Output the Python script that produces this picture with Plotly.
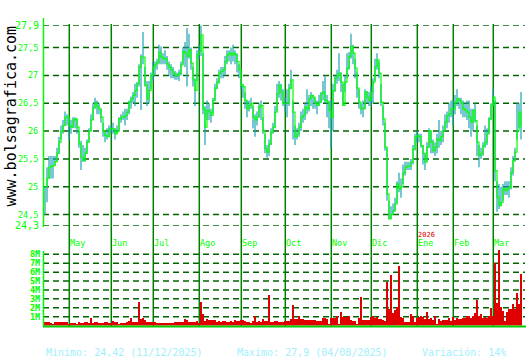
import plotly.graph_objects as go

# ---------------- data ----------------
close = [25.00,25.15,25.35,25.37,25.38,25.45,25.60,25.80,26.00,26.10,26.25,26.25,26.10,26.07,26.20,26.22,26.07,25.77,25.53,25.47,
         25.60,25.80,26.00,26.20,26.42,26.50,26.44,26.40,26.25,26.00,25.92,25.90,26.04,26.04,26.04,25.95,26.00,26.22,26.25,26.25,
         26.28,26.34,26.52,26.58,26.64,26.73,26.85,27.15,27.33,27.33,26.82,26.58,26.73,27.00,27.15,27.20,27.24,27.42,27.33,27.30,
         27.30,27.20,27.15,27.10,27.04,27.00,27.00,27.04,27.19,27.43,27.40,27.34,27.46,27.22,26.92,26.73,27.37,27.43,27.73,26.40,
         26.07,26.37,26.34,26.28,26.55,26.77,26.88,27.04,27.07,27.10,27.25,27.37,27.40,27.37,27.40,27.37,27.25,27.10,26.82,26.80,
         26.55,26.40,26.46,26.50,26.25,26.20,26.25,26.44,26.46,26.00,25.68,25.62,25.77,25.98,26.07,26.34,26.67,26.82,26.70,26.50,
         26.50,26.50,26.77,26.92,26.34,25.90,25.95,26.07,26.25,26.28,26.43,26.40,26.58,26.64,26.61,26.50,26.46,26.52,26.67,26.70,
         26.55,26.52,26.37,26.25,26.73,26.95,27.00,27.04,26.88,26.46,26.88,27.13,27.34,27.52,27.40,27.13,26.77,26.52,26.40,26.40,
         26.70,26.61,26.55,26.70,26.88,27.16,27.28,27.04,26.52,26.22,25.71,24.87,24.42,24.50,24.57,24.69,25.05,24.96,25.00,25.25,
         25.35,25.37,25.37,25.44,25.68,25.90,25.92,25.90,25.74,25.60,25.44,25.71,26.01,25.80,25.65,25.71,25.86,25.83,25.90,26.01,
         26.16,26.28,26.31,26.40,26.40,26.52,26.58,26.55,26.50,26.40,26.37,26.34,26.25,26.16,26.37,26.19,25.80,25.56,25.60,25.74,
         25.80,25.95,26.22,26.46,26.61,25.29,24.81,24.66,24.72,24.96,24.93,24.96,24.99,25.26,25.47,25.62,26.01,26.34,26.07]

high = [25.00,25.35,25.55,25.55,25.55,25.55,25.70,25.90,26.10,26.20,26.35,26.30,26.25,26.20,26.25,26.25,26.22,26.00,25.82,25.75,
        25.70,25.85,26.05,26.30,26.50,26.60,26.55,26.50,26.40,26.15,26.00,26.05,26.10,26.10,26.15,26.05,26.10,26.25,26.30,26.35,
        26.40,26.40,26.55,26.62,26.70,26.85,26.88,27.20,27.38,27.78,27.15,26.90,26.90,27.05,27.25,27.25,27.30,27.55,27.52,27.40,
        27.45,27.35,27.25,27.20,27.15,27.08,27.05,27.10,27.25,27.50,27.60,27.85,27.75,27.50,27.15,26.95,27.45,27.55,27.90,27.40,
        26.45,26.55,26.50,26.40,26.60,26.85,26.95,27.10,27.15,27.15,27.35,27.45,27.45,27.50,27.55,27.45,27.40,27.20,26.95,26.85,
        26.70,26.55,26.55,26.60,26.45,26.30,26.35,26.50,26.55,26.25,25.95,25.75,25.85,26.05,26.15,26.45,26.85,26.90,26.85,26.75,
        26.60,26.75,26.85,27.10,26.55,26.10,26.05,26.15,26.35,26.40,26.50,26.75,26.65,26.70,26.65,26.60,26.55,26.65,26.70,26.90,
        27.00,26.65,26.55,26.55,26.85,27.00,27.10,27.40,27.05,26.85,27.00,27.40,27.42,27.75,27.55,27.30,27.05,26.75,26.50,26.55,
        26.75,26.72,26.70,26.80,26.95,27.30,27.40,27.25,26.85,26.45,26.15,25.70,24.75,24.65,24.70,24.80,25.10,25.25,25.15,25.40,
        25.45,25.45,25.45,25.50,25.75,25.95,26.00,25.95,25.95,25.75,25.60,25.80,26.05,26.00,25.85,25.80,25.95,26.20,26.00,26.10,
        26.30,26.35,26.50,26.55,26.55,26.65,26.75,26.60,26.60,26.55,26.50,26.55,26.55,26.40,26.40,26.50,26.10,25.75,25.70,25.80,
        26.10,26.05,26.25,26.50,26.75,26.55,25.10,25.05,25.00,25.05,25.10,25.10,25.10,25.35,25.55,25.70,26.50,26.50,26.70]

low = [24.50,24.72,25.15,25.15,25.15,25.38,25.45,25.60,25.85,25.95,26.10,26.10,25.85,25.95,26.05,26.05,25.95,25.70,25.30,25.45,
       25.45,25.60,25.80,26.00,26.20,26.40,26.30,26.30,26.15,25.90,25.80,25.85,25.90,25.95,25.95,25.85,25.95,26.00,26.15,26.20,
       26.10,26.20,26.30,26.40,26.50,26.45,26.60,26.80,26.38,27.20,26.80,26.45,26.50,26.75,26.90,27.00,27.10,27.20,27.20,27.20,
       27.20,27.10,27.00,26.95,26.95,26.92,26.92,26.90,27.00,27.20,27.15,26.80,27.30,27.10,26.80,26.45,26.90,27.30,27.35,26.30,
       25.75,26.20,26.20,26.15,26.30,26.55,26.75,26.85,26.95,26.95,27.00,27.20,27.25,27.20,27.25,27.20,27.05,26.95,26.75,26.60,
       26.40,26.25,26.35,26.40,26.05,25.90,26.10,26.25,26.20,25.95,25.60,25.52,25.55,25.75,25.95,26.05,26.35,26.60,26.55,26.45,
       26.35,26.25,26.45,26.75,25.85,25.75,25.85,25.90,26.00,26.15,26.20,26.30,26.35,26.45,26.40,26.40,26.30,26.45,26.50,26.55,
       26.50,26.25,26.05,25.70,26.00,26.70,26.85,26.90,26.70,26.45,26.70,26.95,27.10,27.30,27.20,26.95,26.60,26.40,26.30,26.25,
       26.40,26.50,26.45,26.45,26.50,26.90,27.10,26.95,26.45,26.10,25.65,24.75,24.42,24.42,24.50,24.55,24.70,24.90,24.80,25.05,
       25.20,25.30,25.30,25.30,25.40,25.65,25.80,25.80,25.70,25.40,25.30,25.45,25.70,25.60,25.60,25.55,25.60,25.70,25.75,25.80,
       26.00,26.05,26.15,26.25,26.10,26.30,26.45,26.40,26.30,26.25,26.25,26.20,26.05,25.90,26.00,26.15,25.55,25.35,25.50,25.55,
       25.70,25.75,25.95,26.20,26.45,25.10,24.55,24.60,24.65,24.75,24.85,24.85,24.80,24.95,25.20,25.45,25.85,26.05,25.85]

volume_m = [0.37,0.44,0.37,0.33,0.20,0.37,0.44,0.40,0.37,0.44,0.44,0.44,0.22,0.30,0.30,0.30,0.22,0.37,0.30,0.30,
            0.37,0.40,0.33,0.90,0.26,0.40,0.40,0.33,0.33,0.33,0.37,0.40,0.33,0.33,0.52,0.37,0.44,0.22,0.26,0.26,
            0.33,0.40,0.55,0.90,0.40,0.40,0.44,2.67,0.78,0.90,0.63,0.44,0.44,0.44,0.44,0.44,0.33,0.33,0.33,0.33,
            0.33,0.33,0.33,0.33,0.33,0.37,0.37,0.44,0.37,0.44,0.78,0.60,0.44,0.44,0.44,0.44,0.55,0.33,2.67,1.33,
            0.55,0.78,0.60,0.60,0.60,0.60,0.37,0.48,0.44,0.52,0.52,0.40,0.40,0.52,0.44,0.63,0.48,0.55,0.60,0.67,
            0.55,0.44,0.40,0.33,0.55,1.07,0.44,0.55,0.44,0.78,0.55,0.55,3.44,0.44,0.37,0.55,0.55,0.37,0.44,0.44,
            0.52,0.55,0.55,0.78,2.33,0.78,0.78,1.11,0.78,0.78,0.67,0.67,0.67,0.67,0.67,0.67,0.48,0.55,0.55,0.81,
            0.90,0.78,0.10,0.90,0.90,0.90,1.10,0.10,1.55,1.00,1.00,1.00,1.10,0.67,0.55,0.55,0.10,0.90,3.22,0.67,
            0.67,0.60,0.67,1.00,1.10,0.90,1.00,0.78,0.78,0.67,0.55,4.89,1.89,5.67,1.44,1.78,2.11,6.67,1.00,0.90,
            0.44,0.44,0.44,1.33,1.10,0.44,0.90,1.00,1.10,1.00,0.78,1.55,0.78,0.90,0.67,1.10,0.10,0.78,0.55,0.67,
            0.60,0.60,0.90,0.55,1.00,0.67,0.90,0.78,0.78,0.90,0.90,1.10,1.10,0.90,1.10,1.44,2.89,1.10,1.33,0.90,
            1.00,0.90,1.10,2.00,1.10,7.00,2.56,8.44,2.11,1.67,0.55,1.55,1.89,1.89,2.44,1.89,3.67,2.44,5.78]

months = ["May", "Jun", "Jul", "Ago", "Sep", "Oct", "Nov", "Dic", "Ene", "Feb", "Mar"]
month_start = [12, 33, 54, 77, 98, 120, 143, 163, 186, 204, 224]   # trading-day index of first session
year_mark = "2026"
year_month = "Ene"

price_ticks = [27.9, 27.5, 27.0, 26.5, 26.0, 25.5, 25.0, 24.5, 24.3]
price_tick_text = ["27,9", "27,5", "27", "26,5", "26", "25,5", "25", "24,5", "24,3"]
vol_ticks = [1, 2, 3, 4, 5, 6, 7, 8]
vol_tick_text = ["1M", "2M", "3M", "4M", "5M", "6M", "7M", "8M"]

footer_min = "Minimo: 24,42 (11/12/2025)"
footer_max = "Maximo: 27,9 (04/08/2025)"
footer_var = "Variación: 14%"
site = "www.bolsagrafica.com"

# ---------------- figure ----------------
W, H = 530, 360
def px_x(p):
    return p / W
def px_y(p):
    return 1 - p / H

n = len(close)
idx = list(range(n))

FONT = "DejaVu Sans Mono"
GREEN = "#00ff00"
GRID = "#006400"
MONTH_LINE = "#008000"
TEAL = "#1ea3b3"
RED = "#e00000"
FOOT = "#a0f0fa"

# high-low bars as segments
hx, hy = [], []
for i in idx:
    hx += [i, i, None]
    hy += [low[i], high[i], None]

fig = go.Figure()
fig.add_trace(go.Scatter(x=hx, y=hy, mode="lines", line=dict(color=TEAL, width=1.2),
                         hoverinfo="skip", showlegend=False, xaxis="x", yaxis="y"))
fig.add_trace(go.Scatter(x=idx, y=close, mode="lines", line=dict(color=GREEN, width=1.2, shape="hv"),
                         showlegend=False, xaxis="x", yaxis="y"))
fig.add_trace(go.Bar(x=idx, y=volume_m, width=0.5, marker=dict(color=RED, line=dict(width=0)),
                     showlegend=False, xaxis="x", yaxis="y2"))

x_left, x_right = 43, 525
price_top_px, price_bot_px = 25.3, 225.7
vol_base_px, vol_top_px = 325.6, 249.0
vol_max = (vol_base_px - vol_top_px) / 8.91

fig.update_layout(
    width=W, height=H, margin=dict(l=0, r=0, t=0, b=0),
    paper_bgcolor="white", plot_bgcolor="white",
    bargap=0,
    xaxis=dict(domain=[px_x(x_left), px_x(x_right)], range=[-1, 240], visible=False, anchor="y"),
    yaxis=dict(domain=[px_y(price_bot_px), px_y(price_top_px)], range=[24.3, 27.9], visible=False,
               anchor="x"),
    yaxis2=dict(domain=[px_y(vol_base_px), px_y(vol_top_px)], range=[0, vol_max], visible=False,
                anchor="x"),
)

shapes = []
dash = "6px,4px"
# horizontal price grid
for v in price_ticks:
    shapes.append(dict(type="line", xref="paper", yref="y", x0=px_x(x_left), x1=px_x(x_right),
                       y0=v, y1=v, line=dict(color=GRID, width=1.5, dash=dash), layer="below"))
# horizontal volume grid
for v in vol_ticks:
    shapes.append(dict(type="line", xref="paper", yref="y2", x0=px_x(x_left), x1=px_x(x_right),
                       y0=v, y1=v, line=dict(color=GRID, width=1.5, dash=dash), layer="below"))
# month lines
for m in month_start:
    shapes.append(dict(type="line", xref="x", yref="paper", x0=m + 0.15, x1=m + 0.15,
                       y0=px_y(326), y1=px_y(24), line=dict(color=MONTH_LINE, width=1.5), layer="below"))
# axes lines
shapes.append(dict(type="line", xref="paper", yref="paper", x0=px_x(43.5), x1=px_x(43.5),
                   y0=px_y(227), y1=px_y(18), line=dict(color=GREEN, width=1.5)))
shapes.append(dict(type="line", xref="paper", yref="paper", x0=px_x(43.5), x1=px_x(43.5),
                   y0=px_y(327), y1=px_y(251), line=dict(color=GREEN, width=1.5)))
shapes.append(dict(type="line", xref="paper", yref="paper", x0=px_x(43), x1=px_x(526),
                   y0=px_y(326.5), y1=px_y(326.5), line=dict(color="#00cc00", width=2)))
fig.update_layout(shapes=shapes)

ann = []
for v, t in zip(price_ticks, price_tick_text):
    big = t in ("27,9", "24,3")
    ann.append(dict(xref="paper", yref="y", x=px_x(41 if big else 40), y=v, text=t, showarrow=False,
                    xanchor="right", yanchor="middle",
                    font=dict(family=FONT, size=10 if big else 8.5, color=GREEN)))
for v, t in zip(vol_ticks, vol_tick_text):
    ann.append(dict(xref="paper", yref="y2", x=px_x(42), y=v, text="<b>" + t + "</b>", showarrow=False,
                    xanchor="right", yanchor="middle", font=dict(family=FONT, size=8.5, color=GREEN)))
for m, t in zip(month_start, months):
    ann.append(dict(xref="x", yref="paper", x=m, y=px_y(243), text=t, showarrow=False,
                    xanchor="left", yanchor="middle", xshift=-1,
                    font=dict(family=FONT, size=8.5, color=GREEN)))
ann.append(dict(xref="x", yref="paper", x=month_start[months.index(year_month)], y=px_y(234.5), text=year_mark,
                showarrow=False, xanchor="left", yanchor="middle", xshift=-1,
                font=dict(family=FONT, size=7, color="#dd0000")))
ann.append(dict(xref="paper", yref="paper", x=px_x(10.5), y=px_y(116), text=site, textangle=-90,
                showarrow=False, xanchor="center", yanchor="middle",
                font=dict(family=FONT, size=15, color="black")))
for xp, t in [(44, footer_min), (235, footer_max), (420, footer_var)]:
    ann.append(dict(xref="paper", yref="paper", x=px_x(xp), y=px_y(352), text=t, showarrow=False,
                    xanchor="left", yanchor="middle", font=dict(family=FONT, size=10, color=FOOT)))
fig.update_layout(annotations=ann)

fig.write_html("out.html")
